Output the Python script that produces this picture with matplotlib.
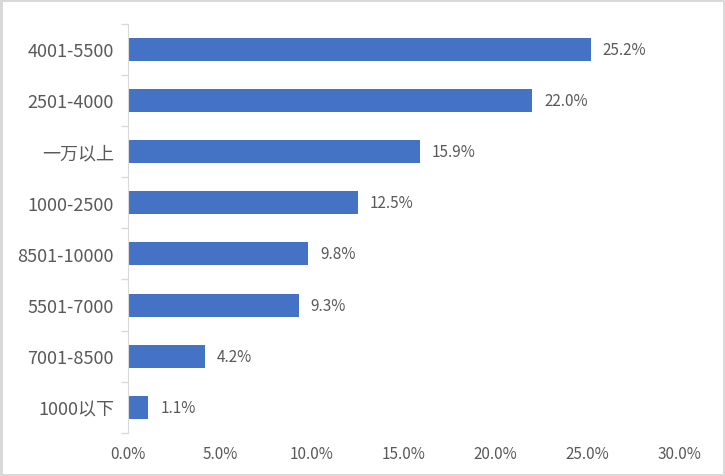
import matplotlib.pyplot as plt
from matplotlib.ticker import FuncFormatter, FixedLocator
import numpy as np

plt.rcParams['font.family'] = ['Noto Sans CJK SC', 'DejaVu Sans']

categories = ['4001-5500', '2501-4000', '一万以上', '1000-2500',
              '8501-10000', '5501-7000', '7001-8500', '1000以下']
shares = [25.2, 22.0, 15.9, 12.5, 9.8, 9.3, 4.2, 1.1]
x_ticks = [0, 5, 10, 15, 20, 25, 30]

text_color = '#595959'
bar_color = '#4472c4'

fig = plt.figure(figsize=(7.25, 4.77), dpi=100)
fig.patch.set_edgecolor('#d9d9d9')
fig.patch.set_linewidth(2.5)
ax = fig.add_axes([128 / 725, 1 - 434 / 477, (679 - 128) / 725, (434 - 24.5) / 477])

y = np.arange(len(categories))
ax.barh(y, shares, height=0.45, color=bar_color)
for yi, v in zip(y, shares):
    ax.text(v + 0.65, yi, '%.1f%%' % v, va='center', ha='left',
            fontsize=11, color=text_color)

ax.set_ylim(len(categories) - 0.5, -0.5)
ax.set_xlim(0, 30)
ax.set_yticks(y)
ax.set_yticklabels(categories, fontsize=13, color=text_color)
ax.yaxis.set_minor_locator(FixedLocator(np.arange(-0.5, len(categories), 1)))
ax.tick_params(axis='y', which='major', length=0, pad=10)
ax.tick_params(axis='y', which='minor', length=5, color='#d9d9d9', width=1)
ax.set_xticks(x_ticks)
ax.xaxis.set_major_formatter(FuncFormatter(lambda v, p: '%.1f%%' % v))
ax.tick_params(axis='x', length=0, pad=9, labelsize=11, labelcolor=text_color)

for s in ['top', 'right', 'bottom']:
    ax.spines[s].set_visible(False)
ax.spines['left'].set_color('#d9d9d9')

fig.savefig('out.png', dpi=100, edgecolor=fig.get_edgecolor())
